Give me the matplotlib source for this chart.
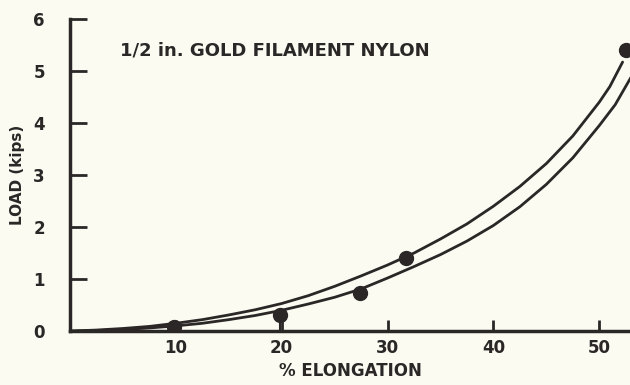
import numpy as np
import matplotlib
matplotlib.use('Agg')
import matplotlib.pyplot as plt

# curves (% elongation, load in kips)
upper_x = [0, 2.5, 5, 7.5, 10, 12.5, 15, 17.5, 20, 22.5, 25, 27.5, 30,
           32.5, 35, 37.5, 40, 42.5, 45, 47.5, 50, 51, 52.2]
upper_y = [0, 0.02, 0.05, 0.09, 0.15, 0.22, 0.31, 0.41, 0.53, 0.68, 0.86,
           1.06, 1.27, 1.50, 1.77, 2.06, 2.40, 2.78, 3.22, 3.75, 4.40, 4.70, 5.17]
lower_x = [0, 2.5, 5, 7.5, 10, 12.5, 15, 17.5, 20, 22.5, 25, 27.5, 30,
           32.5, 35, 37.5, 40, 42.5, 45, 47.5, 50, 51.5, 53.2]
lower_y = [0, 0.01, 0.03, 0.06, 0.10, 0.15, 0.22, 0.30, 0.40, 0.52, 0.65,
           0.81, 1.02, 1.24, 1.47, 1.73, 2.03, 2.39, 2.82, 3.33, 3.95, 4.35, 4.95]

# measured points
pts_x = [9.8, 19.8, 27.4, 31.7, 52.5]
pts_y = [0.07, 0.31, 0.73, 1.40, 5.40]

xticks = [10, 20, 30, 40, 50]
yticks = [0, 1, 2, 3, 4, 5, 6]

ink = '#2b2727'
bg = '#fbfbf2'
plt.rcParams['font.family'] = 'DejaVu Sans'
plt.rcParams['font.weight'] = 'bold'
plt.rcParams['axes.labelweight'] = 'bold'

fig = plt.figure(figsize=(6.3, 3.85), dpi=100, facecolor=bg)
ax = fig.add_axes([0.111, 0.140, 0.889, 0.811], facecolor=bg)

ax.plot(upper_x, upper_y, color=ink, lw=2.0, solid_capstyle='round')
ax.plot(lower_x, lower_y, color=ink, lw=2.0, solid_capstyle='round')
ax.plot(pts_x, pts_y, 'o', color=ink, ms=10, zorder=5)
# little stem under the 20% point
ax.plot([pts_x[1], pts_x[1]], [0, pts_y[1]], color=ink, lw=1.5)

ax.set_xlim(0, 52.9)
ax.set_ylim(0, 6)
ax.set_xticks(xticks)
ax.set_yticks(yticks)
ax.set_xticklabels([str(t) for t in xticks], fontsize=12, color=ink)
ax.set_yticklabels([str(t) for t in yticks], fontsize=12, color=ink)
ax.tick_params(axis='y', direction='in', length=12, width=2, pad=18, colors=ink)
ax.tick_params(axis='x', direction='in', length=8, width=2, pad=6, colors=ink)

for s in ['top', 'right']:
    ax.spines[s].set_visible(False)
for s in ['left', 'bottom']:
    ax.spines[s].set_linewidth(2.5)
    ax.spines[s].set_color(ink)

ax.set_xlabel('% ELONGATION', fontsize=12, color=ink, labelpad=3)
ax.set_ylabel('LOAD (kips)', fontsize=11, color=ink, labelpad=6)
ax.text(4.7, 5.4, '1/2 in. GOLD FILAMENT NYLON', fontsize=13, color=ink,
        va='center', ha='left')

fig.savefig('out.png', dpi=100, facecolor=bg)
